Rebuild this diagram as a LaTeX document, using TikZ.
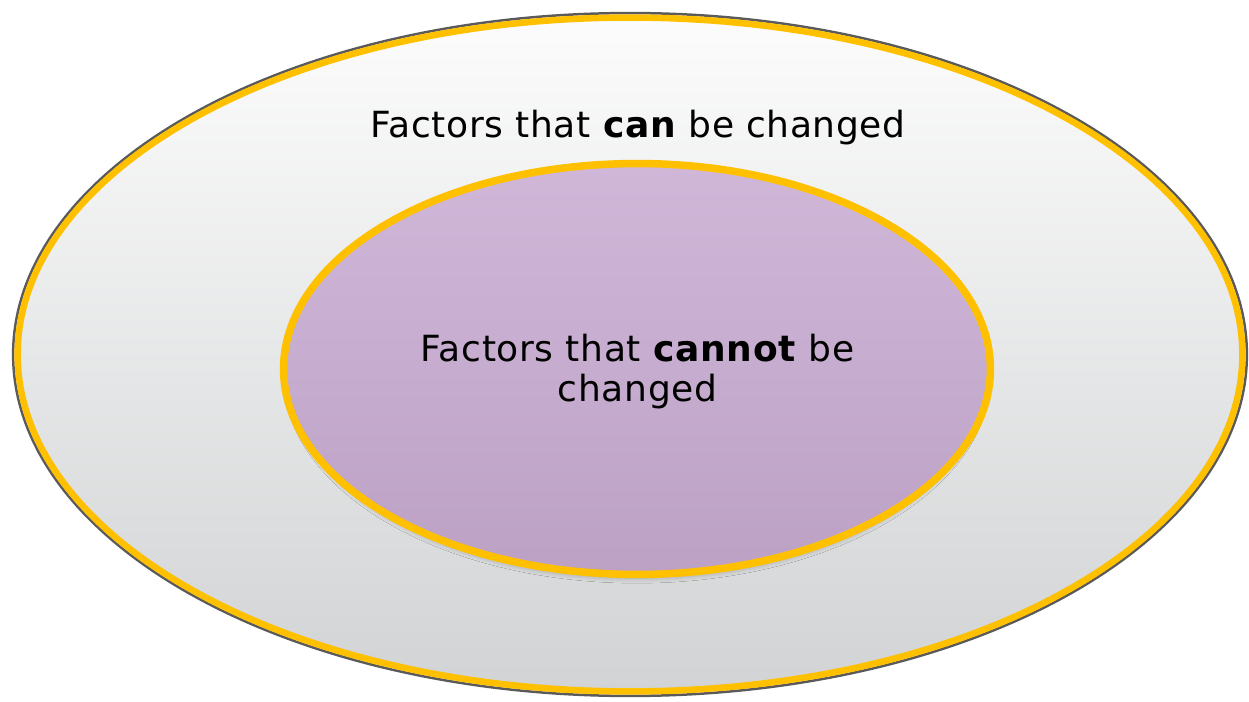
\documentclass[tikz,border=0pt]{standalone}
\usepackage{fontspec}
\setmainfont{DejaVu Sans}
\usetikzlibrary{shapes.geometric,shadows.blur}

\definecolor{ringgold}{HTML}{FFC000}
\definecolor{rimgray}{HTML}{5A5A5A}
\definecolor{paletop}{HTML}{FCFCFC}
\definecolor{palebot}{HTML}{D1D3D4}
\definecolor{lilactop}{HTML}{D0B7D8}
\definecolor{lilacbot}{HTML}{BCA1C5}

\begin{document}
\begin{tikzpicture}
    [x=0.02cm, y=-0.02cm,
    every node/.style={inner sep=0pt},
    rim/.style={ellipse, draw=rimgray, line width=0.05cm},
    band/.style={ellipse, draw=ringgold, line width=0.13cm},
    factor/.style={font=\fontsize{20.5}{22.8}\selectfont\addfontfeatures{LetterSpace=1.8},
        align=center, text=black}
    ]
    \useasboundingbox (0,0) rectangle (1249,702);

    % outer ring: dark rim with a gold band inside it
    \node (outerrim) [rim, minimum width=24.68cm, minimum height=13.66cm] at (630,354.5) {};
    \node (outer) [band, top color=paletop, bottom color=palebot,
        minimum width=24.50cm, minimum height=13.48cm] at (630,354.5) {};

    % inner ring
    \node (inner) [ellipse, draw=ringgold, line width=0.15cm,
        top color=lilactop, bottom color=lilacbot,
        blur shadow={shadow xshift=0cm, shadow yshift=-0.12cm, shadow scale=0.985,
            shadow opacity=30, shadow blur radius=0.12cm, shadow blur steps=10},
        minimum width=14.14cm, minimum height=8.22cm] at (637,369) {};

    \node (canlabel) [factor, anchor=base] at (638,137.5) {Factors that \textbf{can} be changed};
    \node (cannotlabel) [factor] at (637.5,372) {Factors that \textbf{cannot} be\\changed};
\end{tikzpicture}
\end{document}
